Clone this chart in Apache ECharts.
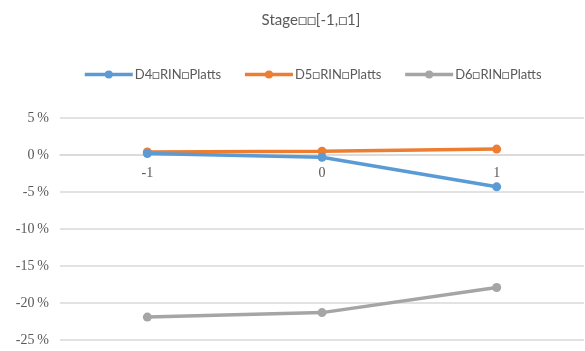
<!DOCTYPE html>
<html>
<head>
<meta charset="utf-8">
<style>
  html, body { margin: 0; padding: 0; background: #fff; }
  #chart { width: 585px; height: 351px; }
</style>
<script src="https://cdn.jsdelivr.net/npm/echarts@6/dist/echarts.min.js"></script>
</head>
<body>
<div id="chart"></div>
<script>
// Event-window days and cumulative returns (%) for each RIN series
const days = ['-1', '0', '1'];
const seriesNames = ['D4\u25A1RIN\u25A1Platts', 'D5\u25A1RIN\u25A1Platts', 'D6\u25A1RIN\u25A1Platts'];
const d4Values = [0.2, -0.3, -4.3];
const d5Values = [0.4, 0.5, 0.8];
const d6Values = [-21.9, -21.3, -17.9];
const colors = ['#5B9BD5', '#ED7D31', '#A5A5A5'];
const titleText = 'Stage\u25A1\u25A1[-1,\u25A11]';

const yMin = -25;
const yMax = 5;
const gridTop = 118;
const gridBottom = 11;
const chartHeight = 351;

const chart = echarts.init(document.getElementById('chart'));

// Move the category axis up so it sits on the 0% line
const plotHeight = chartHeight - gridTop - gridBottom;
const zeroOffset = -plotHeight * (0 - yMin) / (yMax - yMin);

const valueSets = [d4Values, d5Values, d6Values];
const series = seriesNames.map((name, i) => ({
  name: name,
  type: 'line',
  data: valueSets[i],
  symbol: 'circle',
  symbolSize: 9,
  lineStyle: { width: 3.5, color: colors[i] },
  itemStyle: { color: colors[i] },
  z: i === 0 ? 3 : 2
}));

chart.setOption({
  animation: false,
  backgroundColor: '#fff',
  title: {
    text: titleText,
    left: 306,
    textAlign: 'center',
    top: 8,
    textStyle: { fontFamily: 'Lato', fontSize: 15, fontWeight: 'normal', color: '#595959' }
  },
  legend: {
    top: 63,
    left: 78,
    itemWidth: 48,
    itemHeight: 10,
    itemGap: 22,
    lineStyle: { width: 3.5 },
    textStyle: { fontFamily: 'Lato', fontSize: 13, color: '#595959', padding: [0, 0, 0, -3] },
    data: seriesNames
  },
  grid: { left: 60, right: 1, top: gridTop, bottom: gridBottom, outerBoundsMode: 'none' },
  xAxis: {
    type: 'category',
    data: days,
    boundaryGap: true,
    position: 'bottom',
    offset: zeroOffset,
    axisLine: { show: true, onZero: false, lineStyle: { color: '#d9d9d9', width: 1.5 } },
    axisTick: { show: false },
    axisLabel: { margin: 11, fontFamily: 'Liberation Serif', fontSize: 14, color: '#595959' }
  },
  yAxis: {
    type: 'value',
    min: yMin,
    max: yMax,
    interval: 5,
    axisLine: { show: false },
    axisTick: { show: false },
    splitLine: { lineStyle: { color: '#d9d9d9', width: 1.5 } },
    axisLabel: {
      margin: 11,
      formatter: v => v + '\u2009%',
      fontFamily: 'Liberation Serif',
      fontSize: 14,
      color: '#595959'
    }
  },
  series: series
});
</script>
</body>
</html>
